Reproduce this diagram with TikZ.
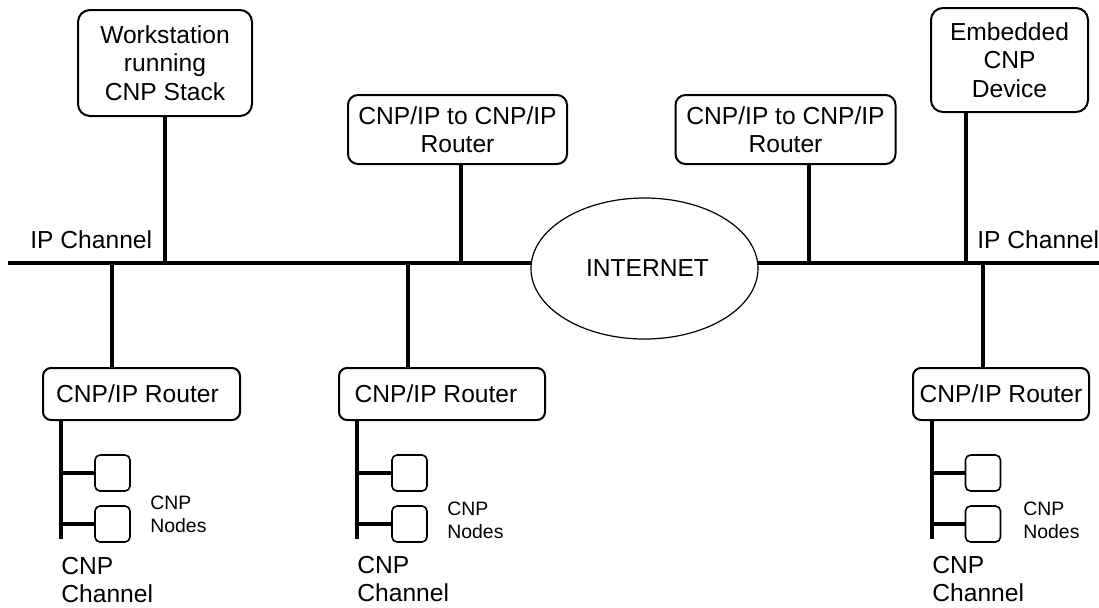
\documentclass[tikz,border=0pt]{standalone}
\usepackage{fontspec}
\setmainfont{Liberation Sans}
\usetikzlibrary{shapes.geometric}
\begin{document}
\begin{tikzpicture}[x=0.5pt, y=-0.5pt,
    box/.style={draw, line width=1pt, rounded corners=6pt, align=center, inner sep=0pt,
                font=\fontsize{12.3}{14.3}\selectfont},
    router/.style={box, rounded corners=4pt, minimum height=26pt},
    cnpnode/.style={draw, line width=0.8pt, rounded corners=2.5pt, minimum width=17.5pt,
                    minimum height=18pt, inner sep=0pt},
    lbl/.style={inner sep=0pt, align=left, anchor=west, font=\fontsize{12.3}{14.3}\selectfont},
    small/.style={inner sep=0pt, align=left, anchor=west, font=\fontsize{9.7}{11.5}\selectfont},
    wire/.style={line width=2pt}]
    \useasboundingbox (0,0) rectangle (1099,607);
    % IP channel and the internet
    \coordinate (busL) at (8,263);
    \coordinate (busR) at (1099,263);
    \draw[wire] (busL) -- (busR);
    \node[draw, ellipse, fill=white, line width=0.6pt, minimum width=113.5pt, minimum height=70.5pt,
          inner sep=0pt, font=\fontsize{12.3}{14.3}\selectfont] (inet) at (644.5,268.5) {\hspace{3pt}INTERNET};
    \node[lbl] (ipl) at (30,240) {IP Channel};
    \node[lbl] (ipr) at (977,240) {IP Channel};
    % devices on the IP channel
    \node[box, minimum width=87pt, minimum height=53pt] (ws) at (165,63) {Workstation\\running\\CNP Stack};
    \node[box, rounded corners=5pt, minimum width=109.5pt, minimum height=34.5pt] (gw1) at (457.5,129.5) {CNP/IP to CNP/IP\\Router};
    \node[box, rounded corners=5pt, minimum width=110pt, minimum height=34.5pt] (gw2) at (785.5,129.5) {CNP/IP to CNP/IP\\Router};
    \node[box, minimum width=78.5pt, minimum height=52pt] (emb) at (1009.5,60) {Embedded\\CNP\\Device};
    \coordinate (tws) at (165,263);
    \coordinate (tgw1) at (461,263);
    \coordinate (tgw2) at (809,263);
    \coordinate (temb) at (966,263);
    \draw[wire] (tws |- ws.south) -- (tws);
    \draw[wire] (tgw1 |- gw1.south) -- (tgw1);
    \draw[wire] (tgw2 |- gw2.south) -- (tgw2);
    \draw[wire] (temb |- emb.south) -- (temb);
    % routers
    \node[router, minimum width=98.5pt] (r1) at (141.5,394) {CNP/IP Router\hspace{4pt}};
    \node[router, minimum width=103pt] (r2) at (442,394) {CNP/IP Router\hspace{6pt}};
    \node[router, minimum width=88pt] (r3) at (1001,394) {CNP/IP Router};
    \coordinate (tr1) at (112,263);
    \coordinate (tr2) at (408,263);
    \coordinate (tr3) at (983,263);
    \draw[wire] (tr1) -- (tr1 |- r1.north);
    \draw[wire] (tr2) -- (tr2 |- r2.north);
    \draw[wire] (tr3) -- (tr3 |- r3.north);
    % CNP channels
    \coordinate (c1) at (61,539);
    \coordinate (c2) at (357,539);
    \coordinate (c3) at (932,539);
    \draw[wire] (c1 |- r1.south) -- (c1);
    \draw[wire] (c2 |- r2.south) -- (c2);
    \draw[wire] (c3 |- r3.south) -- (c3);
    \node[cnpnode] (n11) at (112.5,473) {};
    \node[cnpnode] (n12) at (112.5,524) {};
    \node[cnpnode] (n21) at (409.5,473) {};
    \node[cnpnode] (n22) at (409.5,524) {};
    \node[cnpnode] (n31) at (983,473) {};
    \node[cnpnode] (n32) at (983,524) {};
    \draw[wire] (c1 |- n11) -- (n11.west);
    \draw[wire, line width=1.6pt] (c1 |- n12) -- (n12.west);
    \draw[wire] (c2 |- n21) -- (n21.west);
    \draw[wire, line width=1.6pt] (c2 |- n22) -- (n22.west);
    \draw[wire] (c3 |- n31) -- (n31.west);
    \draw[wire, line width=1.6pt] (c3 |- n32) -- (n32.west);
    \node[small] (nl1) at (150,514.5) {CNP\\Nodes};
    \node[small] (nl2) at (447,520) {CNP\\Nodes};
    \node[small] (nl3) at (1023,520) {CNP\\Nodes};
    \node[lbl] (cl1) at (61,580) {CNP\\Channel};
    \node[lbl] (cl2) at (357,579) {CNP\\Channel};
    \node[lbl] (cl3) at (932,579) {CNP\\Channel};
\end{tikzpicture}
\end{document}
